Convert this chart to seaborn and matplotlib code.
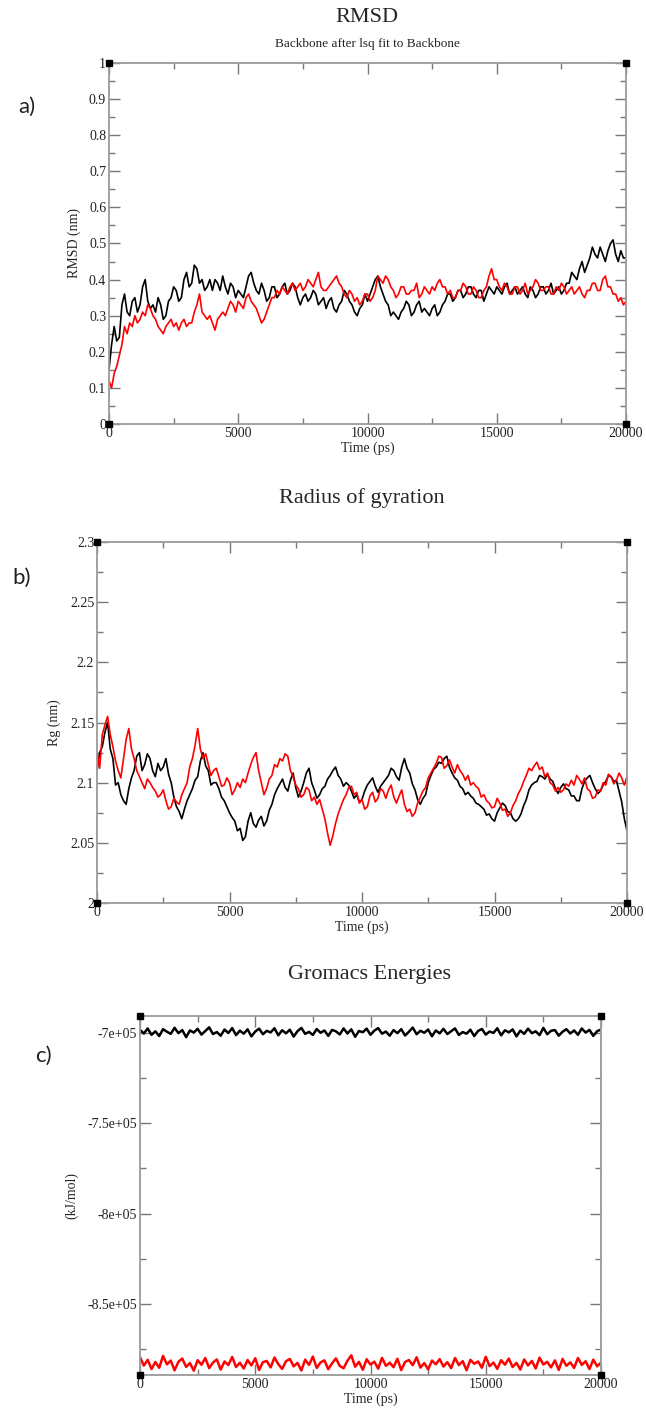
import numpy as np
import seaborn as sns
import matplotlib.pyplot as plt
from matplotlib.ticker import MultipleLocator, FuncFormatter

# RMSD (nm), backbone, two runs (one value every 100 ps)
rmsd_black = [0.15, 0.22, 0.27, 0.23, 0.24, 0.33, 0.36, 0.31, 0.30, 0.34,
              0.35, 0.31, 0.33, 0.38, 0.40, 0.34, 0.32, 0.33, 0.31, 0.35,
              0.33, 0.29, 0.30, 0.34, 0.35, 0.38, 0.37, 0.34, 0.35, 0.40,
              0.42, 0.38, 0.39, 0.44, 0.43, 0.39, 0.40, 0.37, 0.38, 0.40,
              0.37, 0.40, 0.39, 0.37, 0.41, 0.38, 0.36, 0.39, 0.38, 0.35,
              0.37, 0.36, 0.35, 0.38, 0.41, 0.42, 0.39, 0.37, 0.36, 0.39,
              0.37, 0.34, 0.35, 0.38, 0.38, 0.35, 0.36, 0.38, 0.39, 0.36,
              0.37, 0.39, 0.38, 0.35, 0.33, 0.35, 0.36, 0.34, 0.35, 0.37,
              0.36, 0.33, 0.34, 0.35, 0.32, 0.34, 0.35, 0.32, 0.31, 0.33,
              0.34, 0.37, 0.36, 0.34, 0.33, 0.31, 0.30, 0.32, 0.33, 0.36,
              0.34, 0.36, 0.38, 0.40, 0.41, 0.38, 0.36, 0.34, 0.33, 0.30,
              0.31, 0.30, 0.29, 0.31, 0.32, 0.34, 0.33, 0.30, 0.31, 0.33,
              0.34, 0.31, 0.32, 0.31, 0.30, 0.32, 0.33, 0.30, 0.31, 0.33,
              0.34, 0.36, 0.36, 0.34, 0.35, 0.37, 0.37, 0.35, 0.36, 0.38,
              0.38, 0.36, 0.35, 0.37, 0.37, 0.34, 0.36, 0.38, 0.37, 0.36,
              0.38, 0.37, 0.36, 0.38, 0.39, 0.36, 0.37, 0.38, 0.36, 0.37,
              0.38, 0.36, 0.35, 0.38, 0.37, 0.35, 0.36, 0.38, 0.38, 0.36,
              0.37, 0.39, 0.36, 0.37, 0.38, 0.36, 0.37, 0.39, 0.39, 0.42,
              0.41, 0.40, 0.43, 0.45, 0.42, 0.44, 0.46, 0.49, 0.47, 0.46,
              0.49, 0.47, 0.45, 0.48, 0.50, 0.51, 0.47, 0.45, 0.48, 0.46,
              0.46]
rmsd_red = [0.12, 0.10, 0.14, 0.16, 0.19, 0.22, 0.27, 0.25, 0.28, 0.27,
            0.30, 0.28, 0.29, 0.31, 0.30, 0.33, 0.32, 0.30, 0.29, 0.27,
            0.26, 0.25, 0.27, 0.28, 0.29, 0.27, 0.28, 0.26, 0.28, 0.29,
            0.27, 0.28, 0.28, 0.31, 0.33, 0.36, 0.31, 0.30, 0.29, 0.30,
            0.28, 0.26, 0.29, 0.30, 0.31, 0.30, 0.32, 0.34, 0.33, 0.31,
            0.34, 0.33, 0.32, 0.35, 0.36, 0.34, 0.33, 0.32, 0.30, 0.28,
            0.29, 0.31, 0.33, 0.35, 0.35, 0.37, 0.36, 0.38, 0.37, 0.36,
            0.38, 0.39, 0.37, 0.38, 0.39, 0.37, 0.38, 0.40, 0.39, 0.38,
            0.40, 0.42, 0.38, 0.37, 0.37, 0.38, 0.39, 0.40, 0.41, 0.39,
            0.38, 0.36, 0.35, 0.37, 0.36, 0.34, 0.35, 0.33, 0.34, 0.36,
            0.36, 0.34, 0.35, 0.37, 0.41, 0.40, 0.39, 0.41, 0.40, 0.38,
            0.37, 0.35, 0.36, 0.38, 0.38, 0.36, 0.36, 0.37, 0.37, 0.39,
            0.35, 0.36, 0.38, 0.37, 0.36, 0.38, 0.37, 0.39, 0.40, 0.38,
            0.38, 0.36, 0.37, 0.35, 0.35, 0.37, 0.37, 0.39, 0.38, 0.36,
            0.36, 0.38, 0.37, 0.35, 0.35, 0.37, 0.38, 0.41, 0.43, 0.40,
            0.40, 0.38, 0.37, 0.39, 0.38, 0.36, 0.36, 0.38, 0.38, 0.36,
            0.37, 0.39, 0.36, 0.37, 0.38, 0.40, 0.39, 0.37, 0.37, 0.38,
            0.38, 0.36, 0.36, 0.38, 0.37, 0.39, 0.38, 0.36, 0.37, 0.38,
            0.36, 0.37, 0.38, 0.36, 0.35, 0.37, 0.37, 0.39, 0.39, 0.37,
            0.37, 0.40, 0.41, 0.38, 0.38, 0.36, 0.36, 0.34, 0.35, 0.33,
            0.34]

# radius of gyration (nm)
rg_black = [2.11, 2.125, 2.13, 2.142, 2.15, 2.128, 2.12, 2.098, 2.10, 2.09,
            2.085, 2.082, 2.095, 2.104, 2.11, 2.122, 2.125, 2.11, 2.115, 2.124,
            2.12, 2.11, 2.105, 2.116, 2.11, 2.113, 2.12, 2.107, 2.10, 2.088,
            2.08, 2.076, 2.07, 2.078, 2.085, 2.09, 2.095, 2.102, 2.105, 2.118,
            2.125, 2.114, 2.11, 2.098, 2.10, 2.10, 2.095, 2.088, 2.085, 2.08,
            2.075, 2.071, 2.068, 2.06, 2.062, 2.052, 2.055, 2.068, 2.075, 2.066,
            2.063, 2.069, 2.072, 2.064, 2.068, 2.077, 2.082, 2.09, 2.095, 2.099,
            2.103, 2.096, 2.093, 2.102, 2.108, 2.096, 2.088, 2.093, 2.10, 2.108,
            2.112, 2.10, 2.094, 2.087, 2.09, 2.095, 2.097, 2.103, 2.106, 2.11,
            2.113, 2.106, 2.103, 2.097, 2.10, 2.098, 2.093, 2.087, 2.09, 2.084,
            2.086, 2.093, 2.098, 2.101, 2.104, 2.097, 2.092, 2.097, 2.10, 2.103,
            2.106, 2.112, 2.11, 2.105, 2.102, 2.113, 2.12, 2.112, 2.108, 2.099,
            2.094, 2.086, 2.082, 2.087, 2.09, 2.10, 2.106, 2.111, 2.113, 2.117,
            2.116, 2.12, 2.122, 2.113, 2.108, 2.104, 2.102, 2.097, 2.095, 2.09,
            2.092, 2.089, 2.087, 2.083, 2.082, 2.08, 2.078, 2.073, 2.074, 2.07,
            2.068, 2.075, 2.079, 2.083, 2.081, 2.076, 2.075, 2.07, 2.068, 2.07,
            2.074, 2.081, 2.086, 2.094, 2.098, 2.10, 2.101, 2.106, 2.105, 2.103,
            2.107, 2.103, 2.101, 2.095, 2.091, 2.096, 2.099, 2.095, 2.094, 2.089,
            2.089, 2.085, 2.085, 2.095, 2.101, 2.104, 2.106, 2.10, 2.095, 2.091,
            2.093, 2.098, 2.101, 2.106, 2.105, 2.101, 2.102, 2.093, 2.084, 2.07,
            2.06]
rg_red = [2.125, 2.112, 2.14, 2.148, 2.155, 2.14, 2.13, 2.118, 2.11, 2.104,
          2.12, 2.136, 2.145, 2.128, 2.12, 2.11, 2.105, 2.10, 2.095, 2.103,
          2.10, 2.096, 2.093, 2.088, 2.09, 2.094, 2.085, 2.078, 2.08, 2.087,
          2.084, 2.082, 2.09, 2.095, 2.10, 2.113, 2.12, 2.131, 2.145, 2.128,
          2.12, 2.124, 2.115, 2.106, 2.11, 2.112, 2.105, 2.097, 2.098, 2.104,
          2.10, 2.09, 2.094, 2.10, 2.096, 2.103, 2.10, 2.108, 2.115, 2.121,
          2.125, 2.11, 2.10, 2.09, 2.095, 2.103, 2.106, 2.115, 2.113, 2.12,
          2.118, 2.124, 2.122, 2.11, 2.105, 2.098, 2.095, 2.088, 2.09, 2.096,
          2.094, 2.085, 2.088, 2.082, 2.086, 2.078, 2.07, 2.058, 2.048, 2.056,
          2.066, 2.074, 2.08, 2.086, 2.09, 2.096, 2.097, 2.09, 2.092, 2.083,
          2.086, 2.078, 2.08, 2.089, 2.092, 2.084, 2.087, 2.095, 2.093, 2.087,
          2.094, 2.098, 2.088, 2.083, 2.089, 2.094, 2.082, 2.076, 2.078, 2.072,
          2.075, 2.083, 2.088, 2.093, 2.096, 2.104, 2.108, 2.112, 2.116, 2.122,
          2.121, 2.112, 2.114, 2.119, 2.113, 2.108, 2.115, 2.11, 2.107, 2.102,
          2.106, 2.098, 2.10, 2.097, 2.095, 2.088, 2.09, 2.085, 2.083, 2.079,
          2.08, 2.087, 2.083, 2.077, 2.078, 2.072, 2.075, 2.081, 2.085, 2.091,
          2.095, 2.101, 2.106, 2.112, 2.11, 2.114, 2.117, 2.111, 2.113, 2.105,
          2.108, 2.10, 2.098, 2.093, 2.096, 2.092, 2.094, 2.099, 2.097, 2.102,
          2.098, 2.106, 2.103, 2.099, 2.104, 2.095, 2.093, 2.087, 2.088, 2.094,
          2.093, 2.10, 2.098, 2.107, 2.105, 2.099, 2.102, 2.108, 2.104, 2.098,
          2.105]

# energies (kJ/mol)
energy_black = [-698300, -700300, -697500, -701000, -699100, -701700, -697900, -699300, -700500, -697100,
                -700100, -698400, -702300, -698600, -699800, -697700, -700900, -698900, -696900, -700600,
                -699500, -701500, -698100, -700000, -697300, -701200, -698700, -700400, -698000, -701900,
                -699200, -697600, -700700, -698800, -699700, -697400, -701300, -698500, -700200, -698200,
                -702000, -699000, -697200, -700500, -699400, -701100, -697800, -699900, -698600, -701600,
                -698300, -699100, -700800, -697500, -700300, -698000, -702100, -698900, -699600, -697600,
                -701000, -698700, -697300, -700400, -699200, -701500, -698400, -700100, -697900, -701400,
                -699300, -697000, -700700, -698800, -699900, -698100, -701800, -698600, -700200, -697700,
                -700600, -699000, -697500, -701100, -699500, -700400, -698200, -701700, -698900, -697800,
                -700900, -699200, -700000, -697400, -701300, -698500, -699700, -698000, -701900, -698700,
                -700500, -697600, -700100, -699100, -701200, -697200, -700700, -698800, -698400, -701500,
                -699300, -697900, -700300, -698600, -701000, -697500, -699800, -698300, -701600, -699000, -698100]
energy_red = [-879500, -884200, -881000, -886100, -882200, -885400, -878800, -883500, -881400, -886800,
              -882100, -880300, -884900, -882800, -887000, -881200, -883700, -880000, -885600, -882500,
              -880800, -886400, -881900, -883900, -879400, -885000, -882600, -885800, -881100, -884100,
              -880100, -886600, -882300, -881600, -885200, -879700, -883400, -886000, -881800, -880500,
              -884600, -882700, -886900, -880900, -883800, -879200, -885500, -882400, -881300, -886200,
              -882900, -880200, -884400, -885700, -881500, -878500, -884800, -882100, -886500, -880700,
              -883600, -882000, -885900, -879900, -884300, -882600, -885100, -880400, -886700, -882200,
              -881100, -884000, -879600, -885300, -882800, -886300, -881400, -883500, -880600, -884700,
              -882300, -885600, -880000, -883900, -881700, -886800, -881000, -883200, -881900, -885400,
              -879300, -884500, -882500, -886000, -881200, -883700, -880300, -885000, -882700, -886400,
              -880800, -884100, -881600, -885800, -879800, -883600, -882100, -885200, -881300, -886600,
              -880500, -884300, -882400, -885500, -880000, -883800, -881800, -886100, -880900, -884600, -882600]

t_max = 20000

sns.set_style('ticks')
plt.rcParams['font.family'] = ['Liberation Serif', 'DejaVu Serif']

fig = plt.figure(figsize=(6.46, 14.08), dpi=100)


def grace_axes(rect, ylim, ymajor, yminor, yfmt):
	ax = fig.add_axes(rect)
	ax.set_xlim(0, t_max)
	ax.set_ylim(*ylim)
	ax.xaxis.set_major_locator(MultipleLocator(5000))
	ax.xaxis.set_minor_locator(MultipleLocator(2500))
	ax.yaxis.set_major_locator(MultipleLocator(ymajor))
	ax.yaxis.set_minor_locator(MultipleLocator(yminor))
	ax.xaxis.set_major_formatter(FuncFormatter(lambda v, p: '%g' % v))
	ax.yaxis.set_major_formatter(FuncFormatter(yfmt))
	ax.tick_params(which='both', direction='in', top=True, right=True,
	               color='#777777', labelcolor='#222222', labelsize=10, pad=2)
	ax.tick_params(which='major', length=8, width=1)
	ax.tick_params(which='minor', length=4.5, width=1)
	for s in ax.spines.values():
		s.set_color('#9a9a9a')
		s.set_linewidth(1.3)
	# corner handles
	ax.plot([0, t_max, 0, t_max], [ylim[0], ylim[0], ylim[1], ylim[1]], 's',
	        ms=4, color='black', clip_on=False, zorder=6)
	return ax


def trace(ax, vals, color, lw=1.2):
	t = np.linspace(0, t_max, len(vals))
	sns.lineplot(x=t, y=vals, ax=ax, color=color, lw=lw, estimator=None, sort=False)


# a) RMSD
ax1 = grace_axes([109/646, 1 - 424/1408, 517/646, 361/1408], (0, 1), 0.1, 0.05,
                 lambda v, p: '%g' % round(v, 3))
trace(ax1, rmsd_black, 'black')
trace(ax1, rmsd_red, 'red')
ax1.set_xlabel('Time (ps)', fontsize=10, labelpad=1)
ax1.set_ylabel('RMSD (nm)', fontsize=10)
ax1.yaxis.set_label_coords(-0.054, 0.5)

# b) radius of gyration
ax2 = grace_axes([97/646, 1 - 903/1408, 530/646, 361/1408], (2.0, 2.3), 0.05, 0.025,
                 lambda v, p: '%g' % round(v, 3))
trace(ax2, rg_black, 'black')
trace(ax2, rg_red, 'red')
ax2.set_xlabel('Time (ps)', fontsize=10, labelpad=1)
ax2.set_ylabel('Rg (nm)', fontsize=10)
ax2.yaxis.set_label_coords(-0.068, 0.5)

# c) energies
ax3 = grace_axes([140/646, 1 - 1375/1408, 461/646, 359/1408], (-889400, -690600), 50000, 25000,
                 lambda v, p: '{:.2g}'.format(v))
trace(ax3, energy_black, 'black', lw=1.8)
trace(ax3, energy_red, 'red', lw=1.8)
ax3.set_xlabel('Time (ps)', fontsize=10, labelpad=1)
ax3.set_ylabel('(kJ/mol)', fontsize=10)
ax3.yaxis.set_label_coords(-0.134, 0.5)

# titles
fig.text(367/646, 1 - 17/1408, 'RMSD', ha='center', va='center', fontsize=16)
fig.text(367/646, 1 - 44/1408, 'Backbone after lsq fit to Backbone', ha='center', va='center', fontsize=9.5)
fig.text(362/646, 1 - 498/1408, 'Radius of gyration', ha='center', va='center', fontsize=16)
fig.text(370/646, 1 - 975/1408, 'Gromacs Energies', ha='center', va='center', fontsize=16)

# panel letters
for lab, x, y in [('a)', 27, 107), ('b)', 22, 578), ('c)', 43, 1056)]:
	fig.text(x/646, 1 - y/1408, lab, ha='center', va='center', fontsize=16,
	         family=['Lato', 'DejaVu Sans'], color='#222222')

fig.savefig('out.png', dpi=100)
